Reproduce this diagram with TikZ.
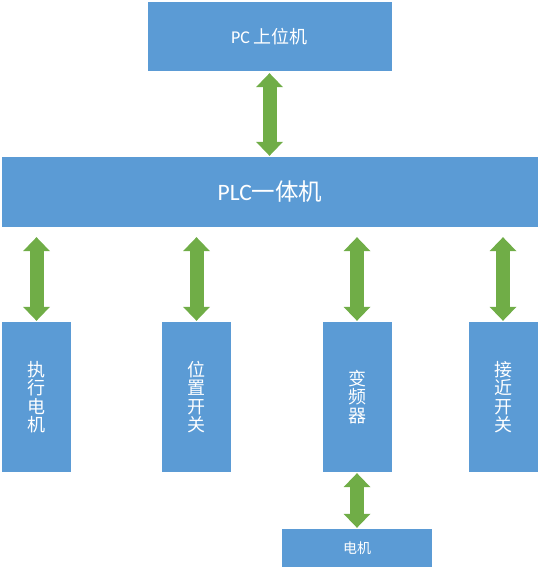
\documentclass[tikz,border=0pt]{standalone}
\usepackage{fontspec}
\setmainfont{Carlito}
\newfontfamily\cjkfont{Noto Sans CJK SC}
\usepackage{xcolor}
\usepackage{tikz}
\usetikzlibrary{arrows.meta}
\definecolor{boxblue}{HTML}{5B9BD5}
\definecolor{linkgreen}{HTML}{70AD47}

\begin{document}
\begin{tikzpicture}[
x=1pt, y=1pt,
blockbox/.style={rectangle, fill=boxblue, text=white, inner sep=0pt, align=center},
hostbox/.style={blockbox, minimum width=244pt, minimum height=69pt, font=\fontsize{18}{20}\selectfont},
plcbox/.style={blockbox, minimum width=536pt, minimum height=70pt, font=\fontsize{23.5}{26}\selectfont},
devicebox/.style={blockbox, minimum width=69pt, minimum height=150pt, font=\cjkfont\fontsize{18}{18.5}\selectfont},
motorbox/.style={blockbox, minimum width=150pt, minimum height=38pt, font=\cjkfont\fontsize{14}{16}\selectfont},
linkarrow/.style={draw=linkgreen, line width=14pt, {Triangle[width=27pt 0, length=14pt 0, line width=0pt]}-{Triangle[width=27pt 0, length=14pt 0, line width=0pt]}},
]
\useasboundingbox (0,0) rectangle (539,568);
%Nodes
\node[hostbox]		(pc)		at (269.5,531.5)	{PC {\cjkfont 上位机}};
\node[plcbox]		(plc)		at (270,376)		{PLC{\cjkfont 一体机}};
\node[devicebox]	(actmotor)	at (36.5,171)		{执\\行\\电\\机};
\node[devicebox]	(posswitch)	at (196.5,171)		{位\\置\\开\\关};
\node[devicebox]	(vfd)		at (357,171)		{变\\频\\器};
\node[devicebox]	(proxswitch)	at (503,171)		{接\\近\\开\\关};
\node[motorbox]		(motor)		at (357,20)		{电机};

%Lines
\draw[linkarrow, shorten <=2pt, shorten >=1pt] (pc.south) -- (pc.south |- plc.north);
\draw[linkarrow, shorten <=10pt, shorten >=1pt] (actmotor.north |- plc.south) -- (actmotor.north);
\draw[linkarrow, shorten <=10pt, shorten >=1pt] (posswitch.north |- plc.south) -- (posswitch.north);
\draw[linkarrow, shorten <=10pt, shorten >=1pt] (vfd.north |- plc.south) -- (vfd.north);
\draw[linkarrow, shorten <=10pt, shorten >=1pt] (proxswitch.north |- plc.south) -- (proxswitch.north);
\draw[linkarrow, shorten <=1pt, shorten >=1pt] (vfd.south) -- (motor.north);
\end{tikzpicture}
\end{document}
